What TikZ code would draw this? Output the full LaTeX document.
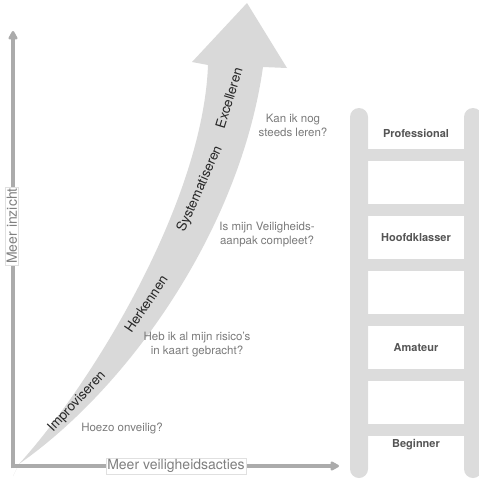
\documentclass[tikz,border=0pt]{standalone}
\usepackage{fontspec}
\setmainfont{TeX Gyre Heros}
\usetikzlibrary{arrows.meta}
\definecolor{bandgray}{HTML}{D9D9D9}
\definecolor{laddergray}{HTML}{DCDCDC}
\definecolor{axisgray}{HTML}{ABABAB}
\definecolor{qgray}{HTML}{7A7A7A}
\definecolor{lgray}{HTML}{555555}
\tikzset{
  axisline/.style={draw=axisgray, line width=4.5pt, -{Triangle[round,length=10pt,width=10pt]}},
  axislabel/.style={fill=white, draw=black!12, line width=0.5pt, text=black!50, font=\fontsize{14}{14}\selectfont, inner sep=1.5pt},
  question/.style={text=qgray, align=center, font=\fontsize{11.5}{14}\selectfont},
  stage/.style={text=black!85, font=\fontsize{13.5}{14}\selectfont, inner sep=0pt},
  rung/.style={fill=laddergray, draw=none},
  rail/.style={fill=laddergray, draw=none, rounded corners=9pt},
  level/.style={text=lgray, font=\bfseries\fontsize{11}{12}\selectfont},
}
\begin{document}
\begin{tikzpicture}[x=1pt,y=-1pt]
\useasboundingbox (0,0) rectangle (479,479);
% ladder
\path[rail] (350,108) rectangle (368,478);
\path[rail] (464,108) rectangle (482,478);
\foreach \y in {149,204,259,314,369,424}{
  \path[rung] (367,\y) rectangle (465,\y+12);
}
\node[level] (prof) at (416,133) {Professional};
\node[level] (hoofd) at (416,238) {Hoofdklasser};
\node[level] (amat) at (416,348) {Amateur};
\node[level] (begin) at (416,445) {Beginner};
% big curved arrow
\fill[bandgray] (13,476) -- (19,464) .. controls (95,380) and (203,200) .. (208,65)
  -- (192,62) -- (247,3) -- (287,68) -- (263,67)
  .. controls (240,230) and (128,388) .. (19,464) -- cycle;
\node[stage, rotate=47] (impr) at (77,402) {Improviseren};
\node[stage, rotate=56] (herk) at (146,304) {Herkennen};
\node[stage, rotate=66] (syst) at (200,189) {Systematiseren};
\node[stage, rotate=73] (exce) at (229,98) {Excelleren};
% questions
\node[question] (q4) at (293,125) {Kan ik nog\\steeds leren?};
\node[question] (q3) at (267,235) {Is mijn Veiligheids-\\aanpak compleet?};
\node[question] (q2) at (197,345) {Heb ik al mijn risico's\\in kaart gebracht?};
\node[question] (q1) at (122,428) {Hoezo onveilig?};
% axes
\coordinate (O) at (13,466);
\coordinate (ytop) at (13,31);
\coordinate (xend) at (339,466);
\draw[axisline] (13,468.25) -- (ytop);
\draw[axisline] (10.75,466) -- (xend);
\node[axislabel, rotate=90] (ylab) at (12,226) {Meer inzicht};
\node[axislabel] (xlab) at (176,466) {Meer veiligheidsacties};
\end{tikzpicture}
\end{document}
